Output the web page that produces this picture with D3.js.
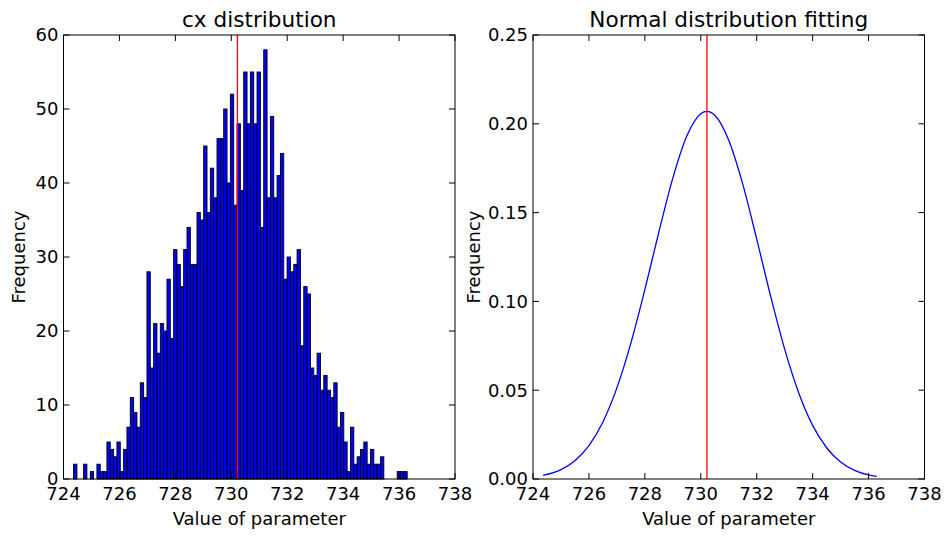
<!DOCTYPE html>
<html>
<head>
<meta charset="utf-8">
<script src="https://cdn.jsdelivr.net/npm/d3@7"></script>
<style>
  body { margin: 0; background: #fff; }
  text { font-family: "DejaVu Sans", sans-serif; fill: #000; }
</style>
</head>
<body>
<div id="chart"></div>
<script>
// histogram of cx, 100 bins between the sample min and max
var binRange = [724.36, 736.29];
var counts = [
    2, 0, 0, 2, 0, 1, 0, 2, 1, 1,
    5, 4, 3, 5, 1, 4, 7, 11, 9, 7,
    13, 11, 28, 15, 21, 17, 21, 20, 27, 19,
    31, 29, 26, 31, 34, 29, 29, 36, 35, 45,
    36, 42, 38, 46, 46, 50, 40, 52, 37, 48,
    39, 55, 48, 55, 48, 55, 34, 58, 38, 49,
    38, 41, 44, 27, 30, 28, 29, 31, 18, 26,
    25, 15, 14, 17, 12, 14, 12, 11, 13, 7,
    9, 5, 1, 7, 2, 3, 4, 5, 2, 4,
    2, 2, 3, 0, 0, 0, 0, 1, 1, 1
];
var meanValue = 730.22;

// fitted normal curve
var curveX = [724.36, 725, 725.5, 726, 726.5, 727, 727.5, 728, 728.5, 729, 729.5, 730,
    730.22, 730.5, 731, 731.5, 732, 732.5, 733, 733.5, 734, 734.5, 735, 735.5, 736, 736.29];
var curveY = [0.0020, 0.0053, 0.0103, 0.0188, 0.0321, 0.0513, 0.0765, 0.1066, 0.1390, 0.1694, 0.1931, 0.2057,
    0.2070, 0.2048, 0.1907, 0.1660, 0.1351, 0.1028, 0.0731, 0.0486, 0.0302, 0.0176, 0.0096, 0.0049, 0.0023, 0.0015];

var xTicks = [724, 726, 728, 730, 732, 734, 736, 738];
var histYTicks = [0, 10, 20, 30, 40, 50, 60];
var pdfYTicks = [0, 0.05, 0.10, 0.15, 0.20, 0.25];

var svg = d3.select("#chart").append("svg")
    .attr("width", 949)
    .attr("height", 536);

var plotTop = 35, plotBottom = 479;

function drawFrame(g, x, y, yTicks, yFmt, title, labelGap) {
    var x0 = x.range()[0], x1 = x.range()[1];
    // ticks pointing inward on all four sides
    xTicks.forEach(function (t) {
        g.append("line").attr("x1", x(t)).attr("x2", x(t)).attr("y1", plotBottom).attr("y2", plotBottom - 6)
            .attr("stroke", "#000");
        g.append("line").attr("x1", x(t)).attr("x2", x(t)).attr("y1", plotTop).attr("y2", plotTop + 6)
            .attr("stroke", "#000");
        g.append("text").attr("x", x(t)).attr("y", plotBottom + 21)
            .attr("text-anchor", "middle").style("font-size", "18px").text(t);
    });
    yTicks.forEach(function (t) {
        g.append("line").attr("x1", x0).attr("x2", x0 + 6).attr("y1", y(t)).attr("y2", y(t))
            .attr("stroke", "#000");
        g.append("line").attr("x1", x1).attr("x2", x1 - 6).attr("y1", y(t)).attr("y2", y(t))
            .attr("stroke", "#000");
        g.append("text").attr("x", x0 - 5).attr("y", y(t)).attr("dy", "0.35em")
            .attr("text-anchor", "end").style("font-size", "18px").text(yFmt(t));
    });
    g.append("rect")
        .attr("x", x0).attr("y", plotTop)
        .attr("width", x1 - x0).attr("height", plotBottom - plotTop)
        .attr("fill", "none").attr("stroke", "#000").attr("stroke-width", 1);
    g.append("text").attr("x", (x0 + x1) / 2).attr("y", 27)
        .attr("text-anchor", "middle").style("font-size", "21.6px").text(title);
    g.append("text").attr("x", (x0 + x1) / 2).attr("y", 525)
        .attr("text-anchor", "middle").style("font-size", "18px").text("Value of parameter");
    g.append("text")
        .attr("transform", "translate(" + (x0 - labelGap) + "," + ((plotTop + plotBottom) / 2) + ") rotate(-90)")
        .attr("text-anchor", "middle").style("font-size", "18px").text("Frequency");
}

// left: histogram
var x1s = d3.scaleLinear().domain([724, 738]).range([63.5, 455]);
var y1s = d3.scaleLinear().domain([0, 60]).range([plotBottom, plotTop]);
var left = svg.append("g");
var binW = (binRange[1] - binRange[0]) / counts.length;

var bins = counts.map(function (c, i) {
    return { x0: binRange[0] + i * binW, x1: binRange[0] + (i + 1) * binW, c: c };
}).filter(function (d) { return d.c > 0; });

left.append("g").selectAll("rect")
    .data(bins)
    .enter()
    .append("rect")
    .attr("x", function (d) { return x1s(d.x0); })
    .attr("width", function (d) { return x1s(d.x1) - x1s(d.x0); })
    .attr("y", function (d) { return y1s(d.c); })
    .attr("height", function (d) { return y1s(0) - y1s(d.c); })
    .attr("fill", "#0000ff")
    .attr("stroke", "#000")
    .attr("stroke-width", 0.9);

left.append("line")
    .attr("x1", x1s(meanValue)).attr("x2", x1s(meanValue))
    .attr("y1", plotTop).attr("y2", plotBottom)
    .attr("stroke", "#ff0000").attr("stroke-width", 1.3);

drawFrame(left, x1s, y1s, histYTicks, d3.format("d"), "cx distribution", 39);

// right: fitted normal
var x2s = d3.scaleLinear().domain([724, 738]).range([533, 924.5]);
var y2s = d3.scaleLinear().domain([0, 0.25]).range([plotBottom, plotTop]);
var right = svg.append("g");

var line = d3.line()
    .x(function (d, i) { return x2s(curveX[i]); })
    .y(function (d) { return y2s(d); })
    .curve(d3.curveMonotoneX);

right.append("path")
    .attr("d", line(curveY))
    .attr("fill", "none")
    .attr("stroke", "#0000ff")
    .attr("stroke-width", 1.3);

right.append("line")
    .attr("x1", x2s(meanValue)).attr("x2", x2s(meanValue))
    .attr("y1", plotTop).attr("y2", plotBottom)
    .attr("stroke", "#ff0000").attr("stroke-width", 1.3);

drawFrame(right, x2s, y2s, pdfYTicks, d3.format(".2f"), "Normal distribution fitting", 53);
</script>
</body>
</html>
